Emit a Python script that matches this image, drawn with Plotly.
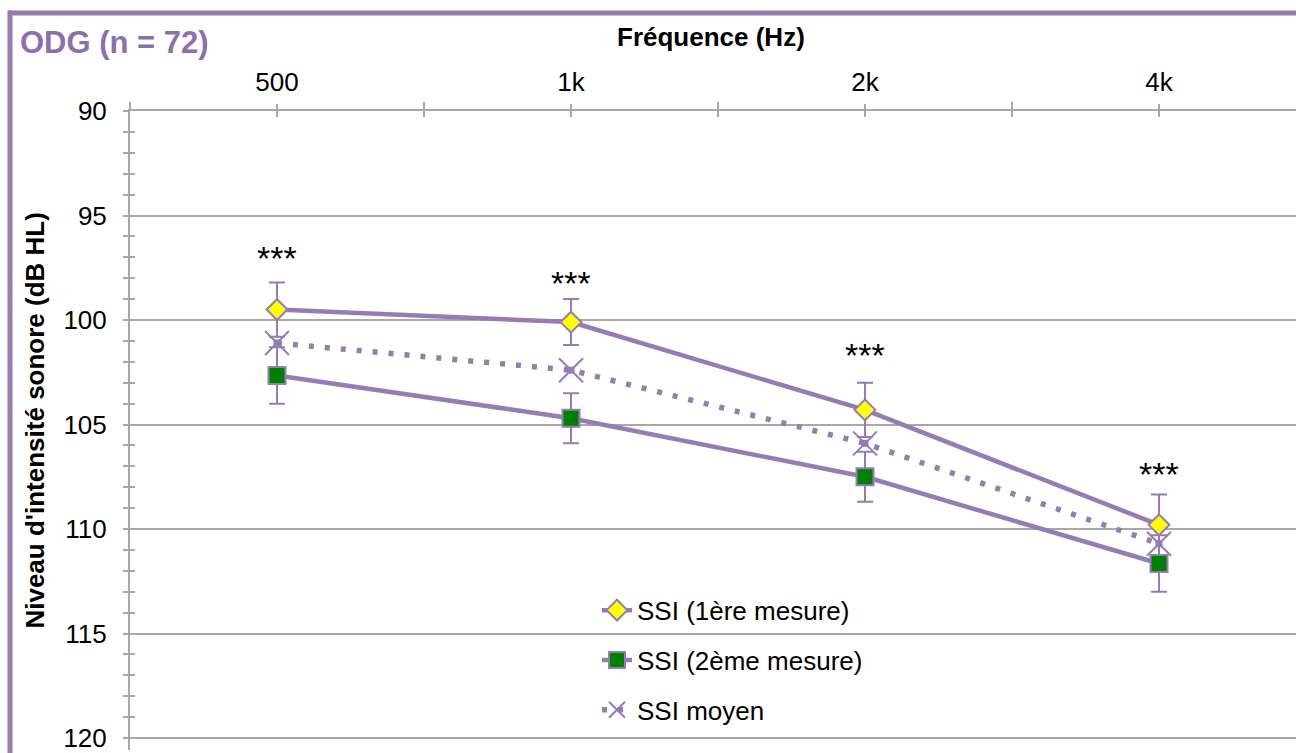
import plotly.graph_objects as go

# ---------------- data ----------------
frequencies = ["500", "1k", "2k", "4k"]
ssi_1 = [99.5, 100.1, 104.3, 109.8]
ssi_1_err = [1.3, 1.1, 1.3, 1.45]
ssi_2 = [102.65, 104.7, 107.5, 111.65]
ssi_2_err = [1.35, 1.2, 1.2, 1.35]
ssi_moyen = [101.1, 102.4, 105.9, 110.7]
signif_labels = ["***", "***", "***", "***"]
signif_y = [97.05, 98.24, 101.67, 107.38]
y_ticks = [90, 95, 100, 105, 110, 115, 120]

# ---------------- style ----------------
W, H = 1296, 753
ML, MT = 130, 111
PW, PH = W - ML, H - MT
FONT = "Liberation Sans, Arial, Helvetica, sans-serif"
PURPLE = "#957CB4"
TITLE_PURPLE = "#8B70AD"
GRID = "#A8A8A8"
FS = 26

xs = list(range(len(frequencies)))

def px_x(p):
    return (p - ML) / PW

def px_y(p):
    return (H - p) / PH

fig = go.Figure()

fig.add_trace(go.Scatter(
    x=xs, y=ssi_1, name="SSI (1ère mesure)", mode="lines+markers",
    line=dict(color=PURPLE, width=4.5),
    marker=dict(symbol="diamond", size=16, color="#FFFF00",
                line=dict(color=PURPLE, width=2)),
    error_y=dict(type="data", array=ssi_1_err, color=PURPLE, thickness=2, width=8),
    legendgroup="a",
))
fig.add_trace(go.Scatter(
    x=xs, y=ssi_2, name="SSI (2ème mesure)", mode="lines+markers",
    line=dict(color=PURPLE, width=4.5),
    marker=dict(symbol="square", size=17, color="#008000",
                line=dict(color=PURPLE, width=2)),
    error_y=dict(type="data", array=ssi_2_err, color=PURPLE, thickness=2, width=8),
    legendgroup="b",
))
fig.add_trace(go.Scatter(
    x=xs, y=ssi_moyen, name="SSI moyen", mode="lines+markers",
    line=dict(color=PURPLE, width=5.5, dash="5px,11px"),
    marker=dict(symbol="x-thin", size=24, color=PURPLE,
                line=dict(color=PURPLE, width=2)),
    legendgroup="c",
))
fig.add_trace(go.Scatter(
    x=xs, y=ssi_moyen, mode="markers", showlegend=False, hoverinfo="skip",
    marker=dict(symbol="square", size=7, color=PURPLE),
))
# invisible trace for overlay axes (crossing ticks)
fig.add_trace(go.Scatter(
    x=[xs[0]], y=[y_ticks[0]], xaxis="x2", yaxis="y2", mode="markers",
    marker=dict(opacity=0), showlegend=False, hoverinfo="skip",
))

xr = [-0.5, -0.5 + PW / 294.0]
yr = [y_ticks[0] + PH / 21.0, y_ticks[0]]  # reversed: bottom value first

minor_x = [i + 0.5 for i in range(-1, len(frequencies))]

fig.update_layout(
    width=W, height=H,
    margin=dict(l=ML, r=0, t=MT, b=0),
    paper_bgcolor="white", plot_bgcolor="white",
    font=dict(family=FONT, size=FS, color="black"),
    xaxis=dict(
        side="top", range=xr, tickvals=xs, ticktext=frequencies,
        ticks="outside", ticklen=5, tickwidth=1.5, tickcolor=GRID,
        showgrid=False, showline=True, linecolor=GRID, linewidth=2,
        zeroline=False, tickfont=dict(size=FS), ticklabelstandoff=3,
        ticklabeloverflow="allow",
        minor=dict(tickvals=minor_x, ticks="outside", ticklen=7,
                   tickwidth=1.5, tickcolor=GRID, showgrid=False),
    ),
    xaxis2=dict(
        overlaying="x", side="top", anchor="y", range=xr, tickvals=xs,
        ticks="inside", ticklen=6, tickwidth=1.5, tickcolor=GRID,
        showticklabels=False, showgrid=False, showline=False, zeroline=False,
        minor=dict(tickvals=minor_x, ticks="inside", ticklen=6,
                   tickwidth=1.5, tickcolor=GRID, showgrid=False),
    ),
    yaxis=dict(
        range=yr, tickvals=y_ticks,
        ticks="outside", ticklen=5, tickwidth=1.5, tickcolor=GRID,
        showgrid=True, gridcolor=GRID, gridwidth=2,
        showline=True, linecolor=GRID, linewidth=2, zeroline=False,
        tickfont=dict(size=FS), ticklabelstandoff=11,
        ticklabeloverflow="allow",
        minor=dict(dtick=1, ticks="outside", ticklen=5, tickwidth=1.5,
                   tickcolor=GRID, showgrid=False),
    ),
    yaxis2=dict(
        overlaying="y", anchor="x", range=yr, tickvals=y_ticks,
        ticks="inside", ticklen=5, tickwidth=1.5, tickcolor=GRID,
        showticklabels=False, showgrid=False, showline=False, zeroline=False,
        ticklabeloverflow="allow",
        minor=dict(dtick=1, ticks="inside", ticklen=5, tickwidth=1.5,
                   tickcolor=GRID, showgrid=False),
    ),
    legend=dict(
        x=px_x(597), y=px_y(589), xanchor="left", yanchor="top",
        bgcolor="rgba(0,0,0,0)", font=dict(size=FS),
        tracegroupgap=13, itemwidth=30,
    ),
    showlegend=True,
)

# significance markers
for xi, lab, yv in zip(xs, signif_labels, signif_y):
    fig.add_annotation(x=xi, y=yv, text=lab, showarrow=False,
                       font=dict(size=34, color="black"),
                       xanchor="center", yanchor="middle")

# titles
fig.add_annotation(x=px_x(18), y=px_y(42), xref="paper", yref="paper",
                   text="<b>ODG (n = 72)</b>", showarrow=False,
                   xanchor="left", yanchor="middle",
                   font=dict(size=31, color=TITLE_PURPLE))
fig.add_annotation(x=px_x(711), y=px_y(37), xref="paper", yref="paper",
                   text="<b>Fréquence (Hz)</b>", showarrow=False,
                   xanchor="center", yanchor="middle", font=dict(size=FS))
fig.add_annotation(x=px_x(35), y=px_y(422), xref="paper", yref="paper",
                   text="<b>Niveau d'intensité sonore (dB HL)</b>", showarrow=False,
                   textangle=-90, xanchor="center", yanchor="middle",
                   font=dict(size=FS))

# purple frame
fig.add_shape(type="line", xref="paper", yref="paper",
              x0=px_x(10), x1=px_x(10), y0=px_y(10), y1=px_y(H + 20),
              line=dict(color=PURPLE, width=5))
fig.add_shape(type="line", xref="paper", yref="paper",
              x0=px_x(8), x1=px_x(W + 20), y0=px_y(12.5), y1=px_y(12.5),
              line=dict(color=PURPLE, width=5))

fig.write_html("out.html")
